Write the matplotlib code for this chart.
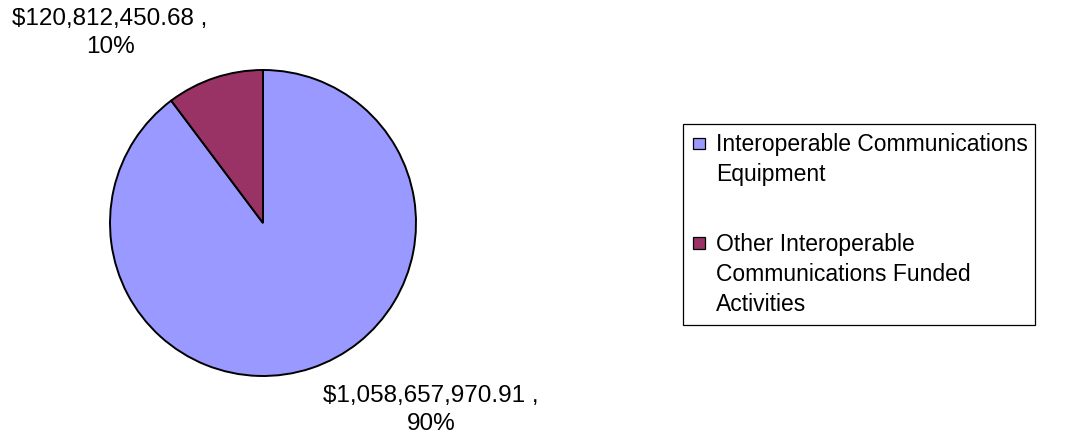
import matplotlib.pyplot as plt
from matplotlib.patches import Rectangle

plt.rcParams['font.family'] = ['Liberation Sans', 'DejaVu Sans']

# data
categories = ["Interoperable Communications\nEquipment",
              "Other Interoperable\nCommunications Funded\nActivities"]
amounts = [1058657970.91, 120812450.68]
percents = [90, 10]
colors = ['#9999FF', '#993366']

W, H = 1068, 440
fig = plt.figure(figsize=[W / 100, H / 100], dpi=100)

# pie axes, centre ~ (263, 223) px, radius ~153 px
cx, cy, r = 263, 223, 153
ax = fig.add_axes([(cx - r) / W, (H - cy - r) / H, 2 * r / W, 2 * r / H])
ax.pie(amounts, colors=colors, startangle=90, counterclock=False,
       wedgeprops=dict(edgecolor='black', linewidth=1.4))
ax.set_xlim(-1, 1)
ax.set_ylim(-1, 1)
ax.set_aspect('equal')
ax.axis('off')

# overlay in pixel coords for labels and legend
ov = fig.add_axes([0, 0, 1, 1])
ov.set_xlim(0, W)
ov.set_ylim(H, 0)
ov.axis('off')

fs = 16.5
label_pos = [(431, 410), (110, 33)]
for amt, pct, (lx, ly) in zip(amounts, percents, label_pos):
    ov.text(lx, ly, f"${amt:,.2f} ,\n{pct}%", ha='center', va='center',
            fontsize=17.5, linespacing=1.3, color='black')

# legend
ov.add_patch(Rectangle((683, 124), 352, 201, fill=False, edgecolor='black', linewidth=0.9))
item_top = [151.5, 251]
line_h = 30
for lab, col, base in zip(categories, colors, item_top):
    ov.add_patch(Rectangle((693, base - 13.5), 11.5, 11.5, facecolor=col,
                           edgecolor='black', linewidth=0.9))
    for i, line in enumerate(lab.split('\n')):
        ov.text(716, base + i * line_h, line, ha='left', va='baseline',
                fontsize=fs, color='black')

fig.savefig('out.png', dpi=100)
